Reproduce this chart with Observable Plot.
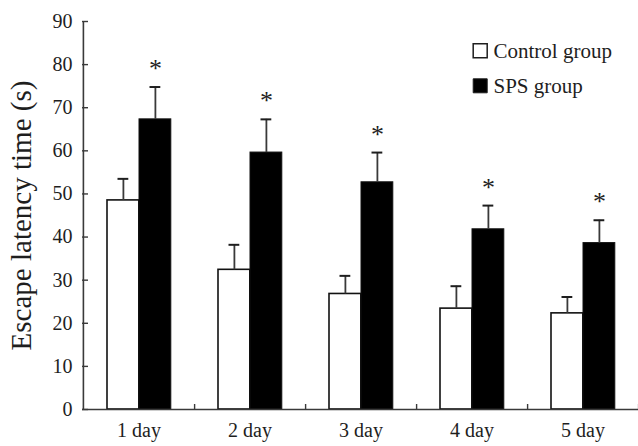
<!DOCTYPE html>
<html><head><meta charset="utf-8">
<script src="https://cdn.jsdelivr.net/npm/d3@7"></script>
<script src="https://cdn.jsdelivr.net/npm/@observablehq/plot@0.6"></script>
<style>body{margin:0;background:#fff}#chart{width:638px;height:446px}</style>
</head><body><div id="chart"></div>
<script>
// ---- data ----
const days = ["1 day", "2 day", "3 day", "4 day", "5 day"];
const groups = ["Control group", "SPS group"];
const control = [48.5, 32.4, 26.8, 23.4, 22.3];
const controlErr = [5.0, 5.8, 4.2, 5.2, 3.8];
const sps = [67.3, 59.6, 52.7, 41.8, 38.6];
const spsErr = [7.5, 7.7, 6.9, 5.5, 5.3];
const significance = ["*", "*", "*", "*", "*"];
const yTicks = [0, 10, 20, 30, 40, 50, 60, 70, 80, 90];
const yLabel = "Escape latency time (s)";

const rows = days.map((day, i) => ({
  day, control: control[i], controlErr: controlErr[i],
  sps: sps[i], spsErr: spsErr[i], sig: significance[i]
}));

// ---- layout / style ----
const W = 638, H = 446, ML = 82, MR = 0, MT = 21, MB = 37;
const plotW = W - ML - MR, plotH = H - MT - MB;
const bw = plotW / days.length;
const font = "'Liberation Serif', 'Times New Roman', serif";
const ink = "#1e1e1e";
const axisInk = "#3a3a3a";
const cL = 40, cS = 72, halfCap = 5.5; // bar centres within a band
const starSize = 26;

const chart = Plot.plot({
  width: W, height: H,
  marginLeft: ML, marginRight: MR, marginTop: MT, marginBottom: MB,
  style: {fontFamily: font, background: "#fff", color: ink, overflow: "visible"},
  x: {type: "band", domain: days, padding: 0},
  y: {domain: [0, 90]},
  marks: [
    // bars
    Plot.barY(rows, {x: "day", y: "control", fill: "#fff", stroke: "#111", strokeWidth: 1.6,
      insetLeft: 24, insetRight: bw - 56}),
    Plot.barY(rows, {x: "day", y: "sps", fill: "#000", stroke: "#111", strokeWidth: 1,
      insetLeft: 56, insetRight: bw - 88}),
    // error bars
    Plot.ruleX(rows, {x: "day", y1: "control", y2: d => d.control + d.controlErr,
      dx: cL - bw / 2, stroke: axisInk, strokeWidth: 1.8}),
    Plot.tickY(rows, {x: "day", y: d => d.control + d.controlErr,
      insetLeft: cL - halfCap, insetRight: bw - cL - halfCap, stroke: ink, strokeWidth: 2}),
    Plot.ruleX(rows, {x: "day", y1: "sps", y2: d => d.sps + d.spsErr,
      dx: cS - bw / 2, stroke: axisInk, strokeWidth: 1.8}),
    Plot.tickY(rows, {x: "day", y: d => d.sps + d.spsErr,
      insetLeft: cS - halfCap, insetRight: bw - cS - halfCap, stroke: ink, strokeWidth: 2}),
    // significance marks
    Plot.text(rows, {x: "day", y: d => d.sps + d.spsErr, text: "sig",
      dx: cS - bw / 2, dy: -23 + 0.18 * starSize, fontSize: starSize, lineAnchor: "middle", fill: ink}),
    // axes
    Plot.ruleY([0], {stroke: axisInk, strokeWidth: 1.6}),
    Plot.ruleX([days[0]], {x: d => d, dx: -bw / 2, stroke: axisInk, strokeWidth: 1.6}),
    Plot.tickY(yTicks, {y: d => d, insetRight: plotW - 6, stroke: axisInk, strokeWidth: 1.4}),
    Plot.tickX(days, {x: d => d, dx: bw / 2, insetTop: plotH - 5, stroke: axisInk, strokeWidth: 1.4}),
    Plot.axisY({ticks: yTicks, tickSize: 0, tickPadding: 10, fontSize: 20, label: null, fill: ink}),
    Plot.axisX({tickSize: 0, tickPadding: 13, fontSize: 20, label: null, fill: ink}),
    Plot.text([yLabel], {text: d => d, frameAnchor: "left", rotate: -90, dx: -61,
      fontSize: 29, textAnchor: "middle", lineAnchor: "middle", fill: ink}),
    // legend
    Plot.dot([groups[0]], {frameAnchor: "top-left", dx: 397.7, dy: 29.3, symbol: "square", r: 7.9,
      fill: "#fff", stroke: ink, strokeWidth: 1.5}),
    Plot.dot([groups[1]], {frameAnchor: "top-left", dx: 397.7, dy: 64.3, symbol: "square", r: 7.9,
      fill: "#000", stroke: ink, strokeWidth: 1}),
    Plot.text([groups[0]], {text: d => d, frameAnchor: "top-left", dx: 411, dy: 30,
      textAnchor: "start", lineAnchor: "middle", fontSize: 21, fill: ink}),
    Plot.text([groups[1]], {text: d => d, frameAnchor: "top-left", dx: 411, dy: 65,
      textAnchor: "start", lineAnchor: "middle", fontSize: 21, fill: ink})
  ]
});
document.getElementById("chart").appendChild(chart);
</script>
</body></html>
